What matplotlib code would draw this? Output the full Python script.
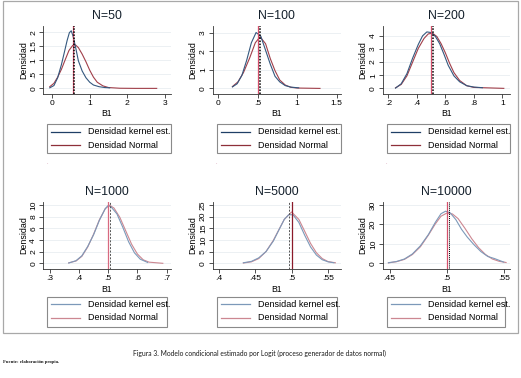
import matplotlib
matplotlib.use("Agg")
import matplotlib.pyplot as plt
from matplotlib.patches import Rectangle
from matplotlib.lines import Line2D

# ---- data ----
titles = ["N=50", "N=100", "N=200", "N=1000", "N=5000", "N=10000"]

kern_x_50 = [-0.06, 0.05, 0.15, 0.25, 0.33, 0.40, 0.46, 0.51, 0.56, 0.62, 0.70, 0.80, 0.90, 1.00, 1.10, 1.25, 1.40, 1.53]
kern_y_50 = [0.02, 0.10, 0.38, 0.85, 1.30, 1.70, 1.98, 2.05, 1.85, 1.50, 0.98, 0.62, 0.38, 0.22, 0.12, 0.06, 0.03, 0.02]
norm_x_50 = [-0.06, 0.05, 0.15, 0.25, 0.35, 0.45, 0.55, 0.62, 0.70, 0.80, 0.90, 1.00, 1.10, 1.20, 1.35, 1.50, 1.80, 2.20, 2.78]
norm_y_50 = [0.06, 0.18, 0.40, 0.68, 1.02, 1.35, 1.53, 1.55, 1.45, 1.22, 0.95, 0.65, 0.40, 0.22, 0.09, 0.03, 0.005, 0.0, 0.0]

kern_x_100 = [0.18, 0.24, 0.30, 0.36, 0.42, 0.48, 0.54, 0.60, 0.66, 0.72, 0.78, 0.85, 0.92, 1.02]
kern_y_100 = [0.08, 0.25, 0.70, 1.50, 2.45, 3.00, 2.80, 2.05, 1.30, 0.65, 0.35, 0.15, 0.07, 0.03]
norm_x_100 = [0.18, 0.25, 0.32, 0.40, 0.47, 0.53, 0.60, 0.66, 0.72, 0.78, 0.85, 0.92, 1.00, 1.29]
norm_y_100 = [0.10, 0.35, 0.85, 1.65, 2.45, 2.77, 2.40, 1.60, 0.95, 0.45, 0.18, 0.06, 0.02, 0.0]

kern_x_200 = [0.25, 0.29, 0.33, 0.37, 0.41, 0.44, 0.47, 0.50, 0.53, 0.56, 0.59, 0.62, 0.66, 0.70, 0.75, 0.80, 0.86]
kern_y_200 = [0.02, 0.35, 1.12, 2.30, 3.35, 4.00, 4.30, 4.25, 3.95, 3.40, 2.60, 1.75, 0.95, 0.50, 0.20, 0.10, 0.05]
norm_x_200 = [0.25, 0.29, 0.33, 0.37, 0.41, 0.45, 0.48, 0.51, 0.54, 0.57, 0.60, 0.63, 0.66, 0.70, 0.75, 0.80, 1.01]
norm_y_200 = [0.04, 0.30, 0.95, 2.00, 3.05, 3.80, 4.15, 4.20, 3.95, 3.40, 2.70, 1.90, 1.20, 0.60, 0.20, 0.07, 0.0]

kern_x_1000 = [0.365, 0.39, 0.41, 0.43, 0.45, 0.47, 0.49, 0.50, 0.51, 0.53, 0.55, 0.57, 0.59, 0.61, 0.635]
kern_y_1000 = [0.05, 0.45, 1.30, 2.90, 4.90, 7.40, 9.40, 9.95, 9.70, 8.50, 6.20, 3.70, 1.80, 0.70, 0.15]
norm_x_1000 = [0.365, 0.39, 0.41, 0.43, 0.45, 0.47, 0.49, 0.505, 0.52, 0.54, 0.56, 0.58, 0.60, 0.62, 0.64, 0.687]
norm_y_1000 = [0.08, 0.40, 1.20, 2.80, 5.00, 7.50, 9.40, 10.0, 9.50, 7.90, 5.60, 3.30, 1.60, 0.60, 0.20, 0.0]

kern_x_5000 = [0.434, 0.445, 0.455, 0.465, 0.475, 0.483, 0.490, 0.496, 0.502, 0.510, 0.518, 0.526, 0.534, 0.542, 0.550, 0.558]
kern_y_5000 = [0.2, 0.8, 2.3, 5.0, 9.5, 14.5, 18.8, 20.8, 20.8, 17.5, 12.0, 7.0, 3.5, 1.5, 0.6, 0.2]
norm_x_5000 = [0.434, 0.445, 0.455, 0.465, 0.475, 0.483, 0.490, 0.500, 0.510, 0.518, 0.526, 0.534, 0.542, 0.550, 0.560]
norm_y_5000 = [0.1, 0.6, 2.0, 5.0, 9.8, 14.6, 18.8, 22.0, 18.8, 13.7, 8.5, 4.5, 2.0, 0.7, 0.2]

kern_x_10000 = [0.449, 0.456, 0.463, 0.470, 0.477, 0.484, 0.490, 0.495, 0.499, 0.503, 0.508, 0.513, 0.518, 0.524, 0.530, 0.536, 0.542, 0.550]
kern_y_10000 = [0.3, 0.9, 2.2, 4.8, 9.0, 14.8, 21.0, 25.5, 26.8, 26.0, 22.5, 17.5, 13.5, 9.5, 6.0, 3.5, 2.4, 0.6]
norm_x_10000 = [0.449, 0.456, 0.463, 0.470, 0.477, 0.484, 0.490, 0.495, 0.500, 0.505, 0.510, 0.516, 0.522, 0.528, 0.534, 0.540, 0.546, 0.552]
norm_y_10000 = [0.2, 0.8, 2.0, 4.5, 8.5, 14.5, 20.2, 24.2, 25.8, 25.4, 23.0, 18.0, 12.6, 8.0, 4.5, 2.2, 1.0, 0.4]

# solid line (true value) and dotted line (mean of estimates)
true_vals = [0.55, 0.50, 0.50, 0.50, 0.50, 0.50]
mean_vals = [0.58, 0.53, 0.51, 0.507, 0.497, 0.502]

x_ticks = [[0, 1, 2, 3], [0, 0.5, 1, 1.5], [0.2, 0.4, 0.6, 0.8, 1],
           [0.3, 0.4, 0.5, 0.6, 0.7], [0.4, 0.45, 0.5, 0.55], [0.45, 0.5, 0.55]]
x_labels = [["0", "1", "2", "3"], ["0", ".5", "1", "1.5"], [".2", ".4", ".6", ".8", "1"],
            [".3", ".4", ".5", ".6", ".7"], [".4", ".45", ".5", ".55"], [".45", ".5", ".55"]]
y_ticks = [[0, 0.5, 1, 1.5, 2], [0, 1, 2, 3], [0, 1, 2, 3, 4],
           [0, 2, 4, 6, 8, 10], [0, 5, 10, 15, 20, 25], [0, 10, 20, 30]]
y_labels = [["0", ".5", "1", "1.5", "2"], ["0", "1", "2", "3"], ["0", "1", "2", "3", "4"],
            ["0", "2", "4", "6", "8", "10"], ["0", "5", "10", "15", "20", "25"], ["0", "10", "20", "30"]]

x_lims = [(-0.24, 3.16), (-0.07, 1.55), (0.16, 1.05), (0.277, 0.715), (0.392, 0.567), (0.444, 0.555)]
y_lims = [(-0.2, 2.22), (-0.3, 3.35), (-0.43, 4.75), (-1.03, 10.6), (-2.6, 26.4), (-3.1, 31.7)]

kern_x = [kern_x_50, kern_x_100, kern_x_200, kern_x_1000, kern_x_5000, kern_x_10000]
kern_y = [kern_y_50, kern_y_100, kern_y_200, kern_y_1000, kern_y_5000, kern_y_10000]
norm_x = [norm_x_50, norm_x_100, norm_x_200, norm_x_1000, norm_x_5000, norm_x_10000]
norm_y = [norm_y_50, norm_y_100, norm_y_200, norm_y_1000, norm_y_5000, norm_y_10000]

legend_labels = ["Densidad kernel est.", "Densidad Normal"]

# ---- layout (pixels) ----
W, H = 521, 378
def fx(px):
    return px / W
def fy(py):
    return 1 - py / H

plt.rcParams['font.family'] = ['Liberation Sans', 'DejaVu Sans']

fig = plt.figure(figsize=(W / 100, H / 100), dpi=100)
fig.patch.set_facecolor("white")

col_left = [43, 212.7, 382.7]
col_right = [171, 340.5, 509.5]
row_top = [26, 201.7]
row_bot = [94, 269.3]
title_y = [16, 191.7]
xlab_y = [114, 289]
leg_top = [124, 296.7]
leg_bot = [153, 326.7]
leg_right_cut = [0, 4]

# colours: top row darker, bottom row lighter
kern_col = ["#34587f", "#7c99b9"]
norm_col = ["#a13f4a", "#cc8791"]
leg_kern_col = ["#1f3f66", "#7c99b9"]
leg_norm_col = ["#8e2f38", "#cc8791"]
vline_col = ["#d4506c", "#d4506c", "#d4506c", "#d86a80", "#8b1a2a", "#d4506c"]
dot_col = ["black", "black", "black", "#555555", "#555555", "black"]
dot_ls = [(0, (1, 1)), (0, (1, 1)), (0, (1, 1)), (0, (2, 1.5)), (0, (2, 1.5)), (0, (1, 1))]

for i in range(6):
    r, c = i // 3, i % 3
    L, R = col_left[c], col_right[c]
    T, B = row_top[r], row_bot[r]
    ax = fig.add_axes([fx(L), fy(B), fx(R) - fx(L), (B - T) / H])
    ax.set_facecolor("white")

    for yt in y_ticks[i]:
        ax.axhline(yt, color="#e9eef1", lw=0.6, zorder=0)

    ax.plot(kern_x[i], kern_y[i], color=kern_col[r], lw=0.8, zorder=3)
    ax.plot(norm_x[i], norm_y[i], color=norm_col[r], lw=0.8, zorder=2)
    ax.axvline(true_vals[i], color=vline_col[i], lw=0.9, zorder=4)
    ax.axvline(mean_vals[i], color=dot_col[i], lw=1.1 if r == 0 else 0.7, ls=dot_ls[i], zorder=5)

    ax.set_xlim(x_lims[i])
    ax.set_ylim(y_lims[i])
    ax.set_xticks(x_ticks[i])
    ax.set_xticklabels(x_labels[i])
    ax.set_yticks(y_ticks[i])
    ax.set_yticklabels(y_labels[i], rotation=90, va="center")
    ax.tick_params(axis="both", labelsize=6.1, length=3, width=0.6, color="#333333", pad=1.2)
    for s in ["top", "right"]:
        ax.spines[s].set_visible(False)
    for s in ["left", "bottom"]:
        ax.spines[s].set_color("#333333")
        ax.spines[s].set_linewidth(0.6)

    cx = (L + R) / 2
    fig.text(fx(cx), fy(title_y[r]), titles[i], ha="center", va="center", fontsize=8.9, color="#14202c")
    fig.text(fx(cx), fy(xlab_y[r]), "B1", ha="center", va="center", fontsize=6.2)
    fig.text(fx(L - 19.5), fy((T + B) / 2), "Densidad", ha="center", va="center", rotation=90, fontsize=6.4)

    # legend box drawn by hand, like the stata one
    lx0, lx1 = L + 4, R - leg_right_cut[r]
    ly0, ly1 = leg_top[r], leg_bot[r]
    fig.add_artist(Rectangle((fx(lx0), fy(ly1)), fx(lx1) - fx(lx0), (ly1 - ly0) / H,
                             transform=fig.transFigure, fill=False, ec="#8a8a8a", lw=0.8))
    for k, (lab, colr) in enumerate(zip(legend_labels, [leg_kern_col[r], leg_norm_col[r]])):
        yy = ly0 + 7.5 + k * 13.8
        fig.add_artist(Line2D([fx(L + 8), fx(L + 37)], [fy(yy), fy(yy)],
                              transform=fig.transFigure, color=colr, lw=0.9))
        fig.text(fx(L + 45), fy(yy), lab, ha="left", va="center", fontsize=6.5)

    if r == 0:
        fig.text(fx(L + 4), fy(162), ".", ha="center", va="center", fontsize=4, color="#c07090")

# outer frame
fig.add_artist(Rectangle((fx(3), fy(333)), fx(518) - fx(3), 332 / H, transform=fig.transFigure,
                         fill=False, ec="#a8a8a8", lw=0.9))

fig.text(fx(259.5), fy(353.5), "Figura 3. Modelo condicional estimado por Logit (proceso generador de datos normal)",
         ha="center", va="center", fontsize=4.9, family=["Lato", "DejaVu Sans"], color="#1a1a1a")
fig.text(fx(3), fy(361.5), "Fuente: elaboración propia.", ha="left", va="center", fontsize=3.4,
         family=["Liberation Serif", "DejaVu Serif"], weight="bold", color="#1a1a1a")

fig.savefig("out.png", dpi=100, facecolor="white")
